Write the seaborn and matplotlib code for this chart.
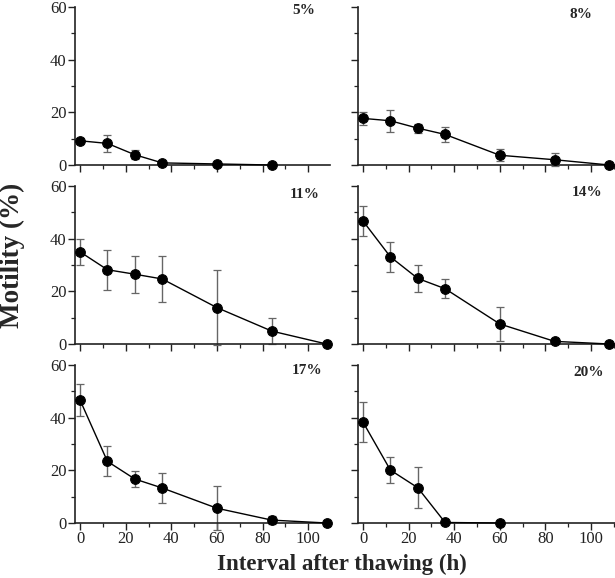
import numpy as np
import pandas as pd
import matplotlib
matplotlib.use("Agg")
import matplotlib.pyplot as plt
import seaborn as sns
from matplotlib.ticker import MultipleLocator

sns.set_style("ticks")
plt.rcParams['font.family'] = ['Liberation Serif', 'DejaVu Serif']

# ---- data ----
panels = ["5%", "8%", "11%", "14%", "17%", "20%"]
hours_5 = [0, 12, 24, 36, 60, 84]
mot_5 = [9.2, 8.2, 3.9, 0.8, 0.4, 0.0]
err_5 = [1.0, 3.1, 1.8, 0.0, 0.0, 0.0]

hours_8 = [0, 12, 24, 36, 60, 84, 108]
mot_8 = [17.7, 16.8, 14.0, 11.6, 3.7, 2.0, 0.0]
err_8 = [2.5, 4.2, 1.7, 3.0, 2.3, 2.5, 0.0]

hours_11 = [0, 12, 24, 36, 60, 84, 108]
mot_11 = [35.0, 28.2, 26.5, 24.7, 13.8, 4.9, 0.0]
err_11 = [5.0, 7.6, 7.1, 8.6, 14.2, 4.9, 0.0]

hours_14 = [0, 12, 24, 36, 60, 84, 108]
mot_14 = [46.7, 33.1, 24.9, 21.0, 7.6, 1.0, 0.0]
err_14 = [5.8, 5.8, 5.0, 3.6, 6.6, 0.0, 0.0]

hours_17 = [0, 12, 24, 36, 60, 84, 108]
mot_17 = [46.7, 23.4, 16.7, 13.3, 5.6, 1.1, 0.0]
err_17 = [5.9, 5.7, 2.9, 5.7, 8.3, 1.5, 0.0]

hours_20 = [0, 12, 24, 36, 60]
mot_20 = [38.3, 20.1, 13.4, 0.2, 0.0]
err_20 = [7.7, 5.0, 7.7, 0.0, 0.0]

series = [
    (hours_5, mot_5, err_5),
    (hours_8, mot_8, err_8),
    (hours_11, mot_11, err_11),
    (hours_14, mot_14, err_14),
    (hours_17, mot_17, err_17),
    (hours_20, mot_20, err_20),
]

W, H = 615, 578
fig = plt.figure(figsize=(W / 100, H / 100), dpi=100)

lefts = [75, 358]
widths = [255, 257]
tops = [7, 186, 365]
ah = 158

label_pos = [(315, 11), (592, 14), (320, 195), (602, 192), (322, 371), (604, 373)]

for i, (name, (hx, my, er)) in enumerate(zip(panels, series)):
    r, c = divmod(i, 2)
    ax = fig.add_axes([lefts[c] / W, 1 - (tops[r] + ah) / H, widths[c] / W, ah / H])
    df = pd.DataFrame({"Interval": hx, "Motility": my, "err": er})
    ax.errorbar(df["Interval"], df["Motility"], yerr=df["err"], fmt="none",
                ecolor="#666666", elinewidth=1.0, capsize=3, capthick=0.9,
                zorder=2, clip_on=False)
    sns.lineplot(data=df, x="Interval", y="Motility", ax=ax, color="black",
                 linewidth=1.0, marker="o", markersize=7, markeredgecolor="black",
                 markerfacecolor="black", zorder=3, clip_on=False)
    ax.set_xlim(-2.2, 109.5 if c == 0 else 110.5)
    ax.set_ylim(0, 60)
    ax.xaxis.set_major_locator(MultipleLocator(20))
    ax.xaxis.set_minor_locator(MultipleLocator(10))
    ax.yaxis.set_major_locator(MultipleLocator(20))
    ax.yaxis.set_minor_locator(MultipleLocator(10))
    for s in ["top", "right"]:
        ax.spines[s].set_visible(False)
    for s in ["left", "bottom"]:
        ax.spines[s].set_linewidth(1.2)
        ax.spines[s].set_color("#222222")
    ax.tick_params(which="major", length=5, width=1.0, direction="out",
                   labelsize=12, colors="#222222", pad=1)
    ax.tick_params(which="minor", length=3, width=0.9, direction="out",
                   colors="#222222")
    ax.set_xlabel("")
    ax.set_ylabel("")
    if r != 2:
        ax.tick_params(labelbottom=False)
    if c != 0:
        ax.tick_params(labelleft=False)
    lx, ly = label_pos[i]
    fig.text(lx / W, 1 - ly / H, name, ha="right", va="center",
             fontsize=11, fontweight="bold")

fig.text(342 / W, 1 - 564 / H, "Interval after thawing (h)", ha="center",
         va="center", fontsize=16.5, fontweight="bold")
fig.text(12 / W, 1 - 255 / H, "Motility (%)", ha="center", va="center",
         rotation=90, fontsize=19.5, fontweight="bold")

fig.savefig("out.png", dpi=100)
